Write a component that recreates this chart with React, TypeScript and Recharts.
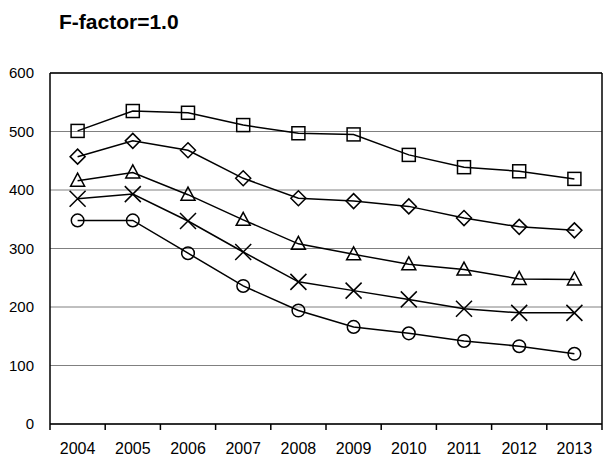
import React from 'react';
import { LineChart, Line, XAxis, YAxis, CartesianGrid } from 'recharts';

const years = ['2004', '2005', '2006', '2007', '2008', '2009', '2010', '2011', '2012', '2013'];
const squareVals = [501, 535, 532, 511, 497, 495, 460, 439, 432, 419];
const diamondVals = [457, 484, 468, 420, 386, 381, 372, 352, 337, 331];
const triangleVals = [416, 430, 392, 349, 308, 290, 273, 264, 248, 247];
const crossVals = [385, 393, 347, 294, 243, 228, 213, 197, 190, 190];
const circleVals = [348, 348, 292, 236, 194, 166, 155, 142, 133, 120];
const yTicks = [0, 100, 200, 300, 400, 500, 600];

const data = years.map((year, i) => ({
  year,
  square: squareVals[i],
  diamond: diamondVals[i],
  triangle: triangleVals[i],
  cross: crossVals[i],
  circle: circleVals[i],
}));

const W = 603;
const H = 456;
const LEFT = 50;
const RIGHT_W = 1;
const PLOT_W = W - LEFT - RIGHT_W;
const HALF_BAND = PLOT_W / years.length / 2;
const X_TICK_GAP = 19;

const mk = { stroke: '#000', strokeWidth: 1.5, fill: 'none' };

const SquareDot = ({ cx, cy }: any) => <rect x={cx - 6.5} y={cy - 6.5} width={13} height={13} {...mk} />;
const DiamondDot = ({ cx, cy }: any) => (
  <polygon points={`${cx},${cy - 7.5} ${cx + 7.5},${cy} ${cx},${cy + 7.5} ${cx - 7.5},${cy}`} {...mk} />
);
const TriangleDot = ({ cx, cy }: any) => (
  <polygon points={`${cx},${cy - 7.5} ${cx + 7},${cy + 5.5} ${cx - 7},${cy + 5.5}`} {...mk} />
);
const CrossDot = ({ cx, cy }: any) => (
  <path d={`M${cx - 8},${cy - 8}L${cx + 8},${cy + 8}M${cx + 8},${cy - 8}L${cx - 8},${cy + 8}`} {...mk} />
);
const CircleDot = ({ cx, cy }: any) => <circle cx={cx} cy={cy} r={6.3} {...mk} />;

const YearTick = ({ x, y, payload, index }: any) => {
  const axisY = y - X_TICK_GAP;
  return (
    <g>
      <line x1={x - HALF_BAND} x2={x - HALF_BAND} y1={axisY} y2={axisY + 6} stroke="#000" strokeWidth={1.5} />
      {index === years.length - 1 && (
        <line x1={x + HALF_BAND} x2={x + HALF_BAND} y1={axisY} y2={axisY + 6} stroke="#000" strokeWidth={1.5} />
      )}
      <text x={x} y={y} dy="0.71em" textAnchor="middle" fill="#000" fontSize={16}>
        {payload.value}
      </text>
    </g>
  );
};

const series = [
  { key: 'square', dot: SquareDot },
  { key: 'diamond', dot: DiamondDot },
  { key: 'triangle', dot: TriangleDot },
  { key: 'cross', dot: CrossDot },
  { key: 'circle', dot: CircleDot },
];

export default function App() {
  return (
    <div
      style={{
        position: 'absolute',
        left: 0,
        top: 0,
        width: W,
        height: H,
        background: '#fff',
        fontFamily: '"Liberation Sans", Arial, sans-serif',
      }}
    >
      <div
        style={{
          position: 'absolute',
          left: 59,
          top: 11,
          fontSize: 21,
          lineHeight: '21px',
          fontWeight: 'bold',
          color: '#000',
        }}
      >
        F-factor=1.0
      </div>
      <LineChart width={W} height={H} data={data} margin={{ top: 72, right: 0, left: 0, bottom: 0 }}>
        <CartesianGrid vertical={false} stroke="#808080" strokeWidth={1} />
        <XAxis
          dataKey="year"
          scale="band"
          height={H - 424}
          axisLine={{ stroke: '#000', strokeWidth: 1.5 }}
          tickLine={false}
          tickSize={0}
          tickMargin={X_TICK_GAP}
          interval={0}
          tick={<YearTick />}
        />
        <YAxis
          width={LEFT}
          domain={[0, 600]}
          ticks={yTicks}
          axisLine={{ stroke: '#000', strokeWidth: 1.5 }}
          tickLine={false}
          tickSize={0}
          tickMargin={16}
          tick={{ fill: '#000', fontSize: 15 }}
        />
        <YAxis
          yAxisId="right"
          orientation="right"
          width={RIGHT_W}
          domain={[0, 600]}
          ticks={yTicks}
          axisLine={{ stroke: '#000', strokeWidth: 1.5 }}
          tickLine={false}
          tick={false}
        />
        <XAxis
          xAxisId="top"
          dataKey="year"
          scale="band"
          orientation="top"
          height={1}
          axisLine={{ stroke: '#000', strokeWidth: 1.5 }}
          tickLine={false}
          tick={false}
        />
        {series.map((s) => (
          <Line
            key={s.key}
            dataKey={s.key}
            stroke="#000"
            strokeWidth={1.5}
            dot={<s.dot />}
            activeDot={false}
            isAnimationActive={false}
          />
        ))}
      </LineChart>
    </div>
  );
}
